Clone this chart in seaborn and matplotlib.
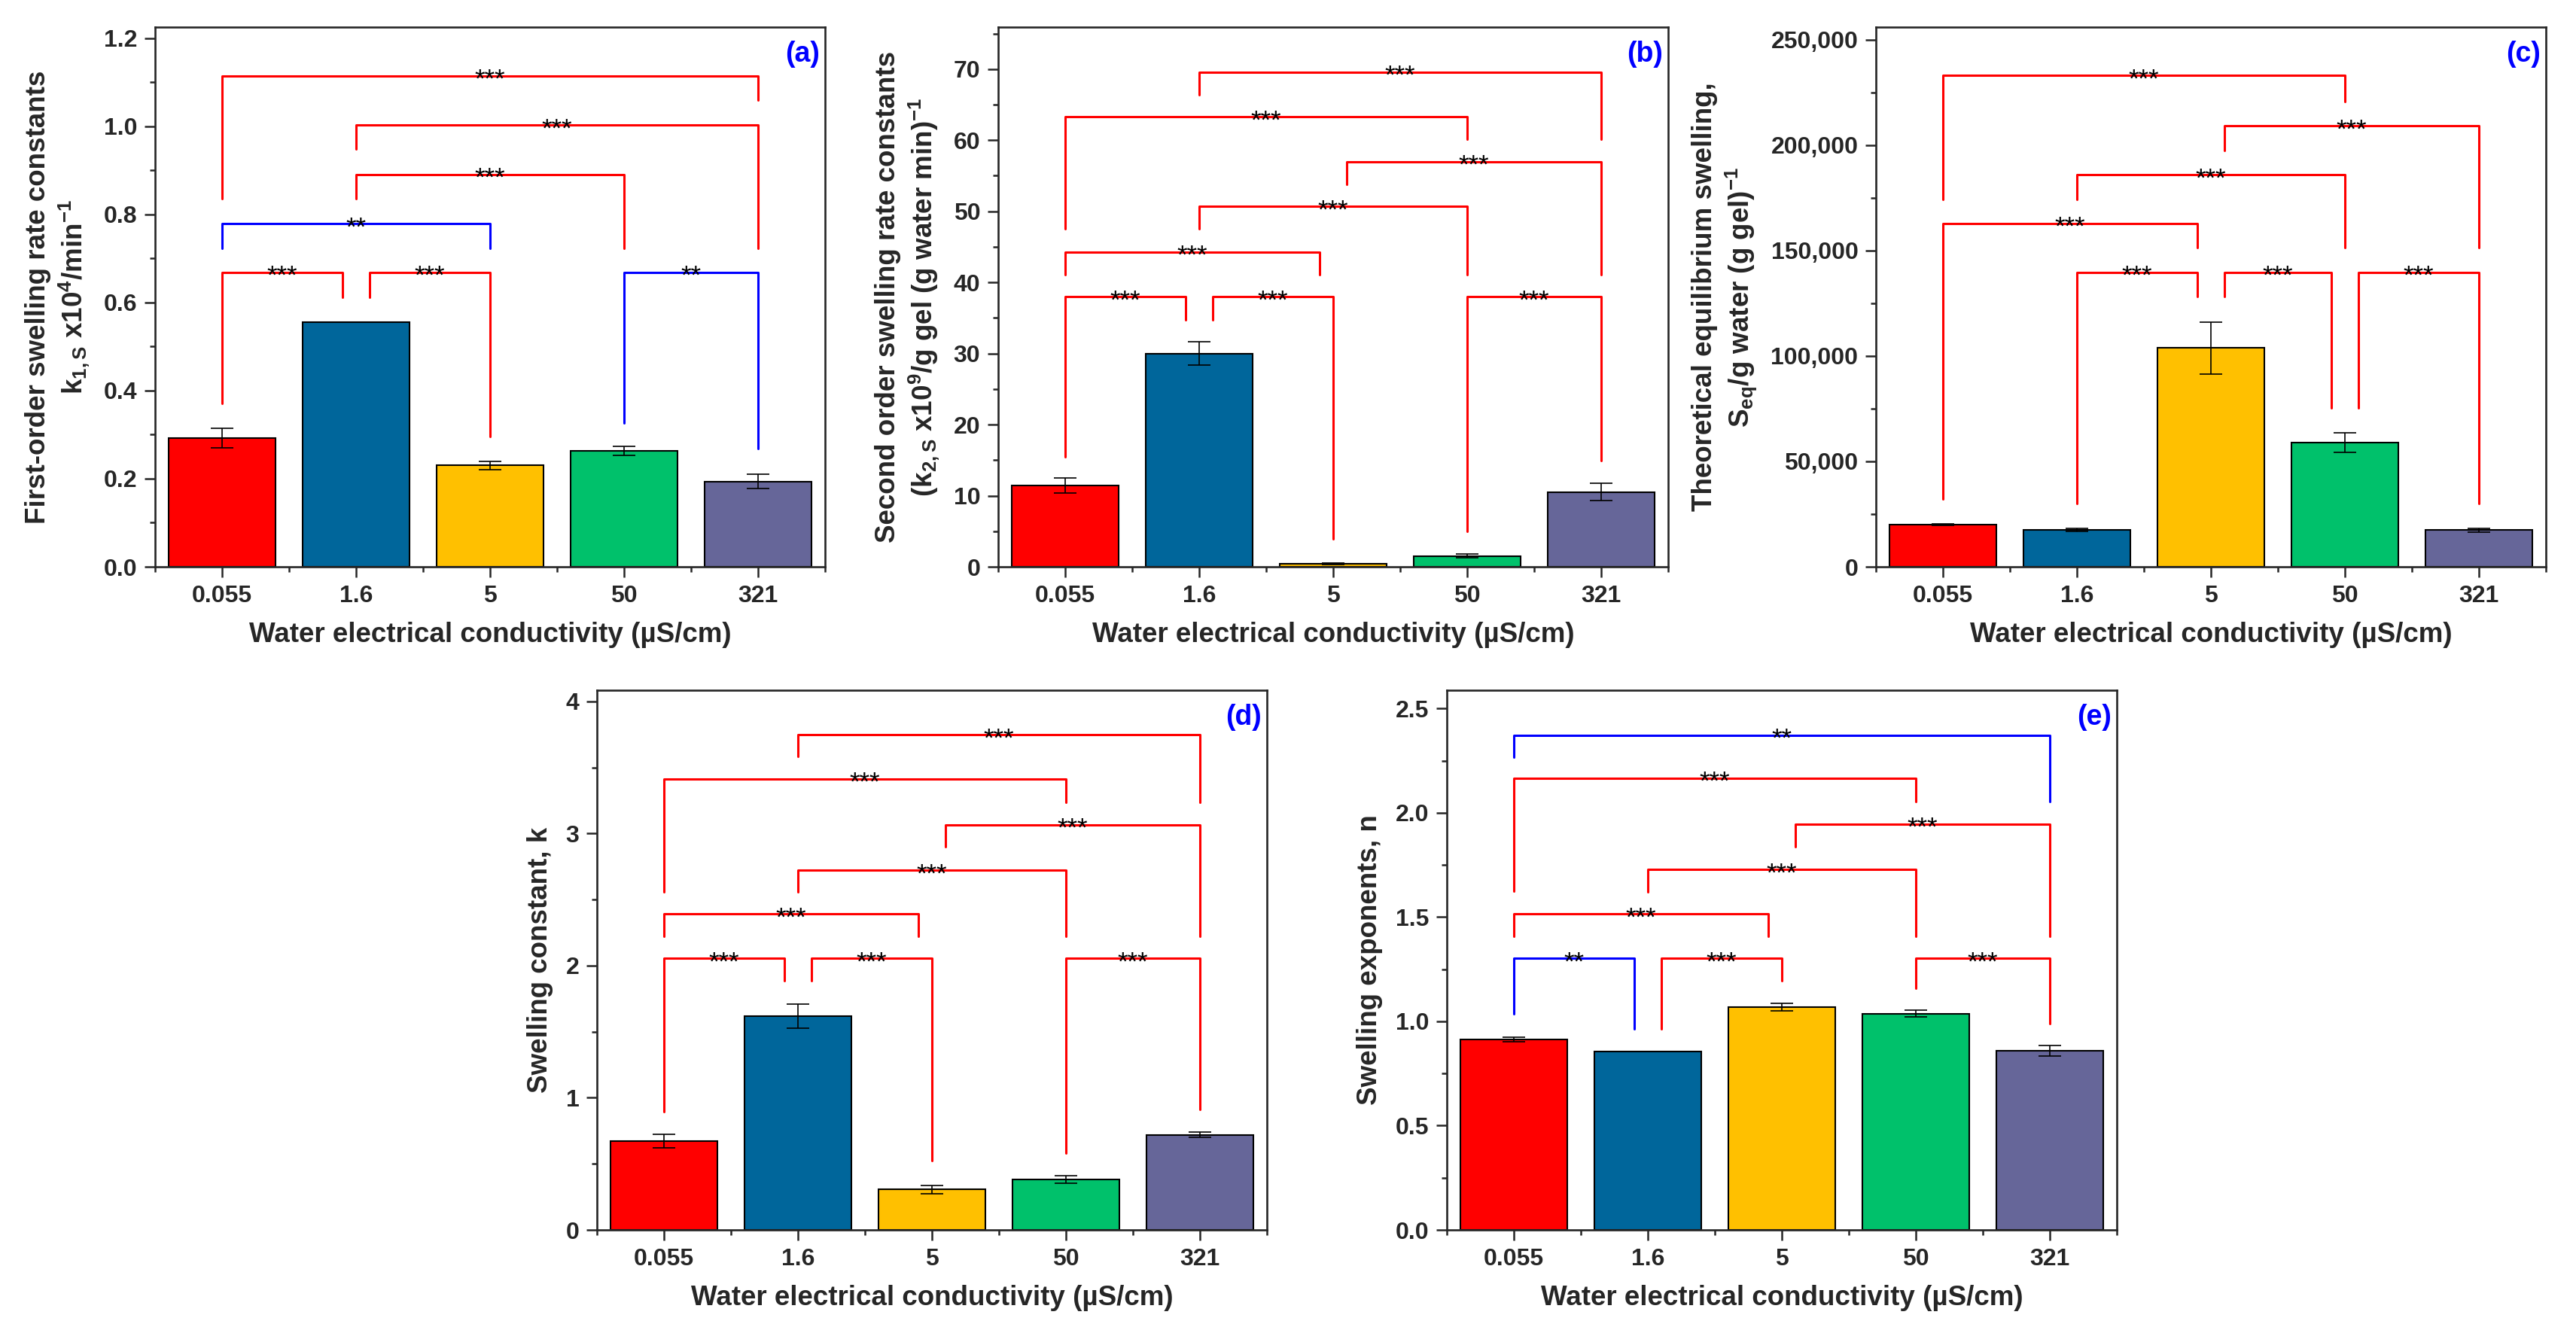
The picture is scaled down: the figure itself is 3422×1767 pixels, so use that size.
import numpy as np
import pandas as pd
import matplotlib
matplotlib.use("Agg")
import matplotlib.pyplot as plt
import matplotlib.ticker as mticker
import seaborn as sns

# data
conductivity = ["0.055", "1.6", "5", "50", "321"]
bar_colors = ["#FF0000", "#00669B", "#FFC000", "#00C16B", "#666699"]

k1_mean = [0.292, 0.556, 0.230, 0.263, 0.194]
k1_err = [0.022, 0.0, 0.010, 0.010, 0.016]

k2_mean = [11.4, 30.0, 0.45, 1.5, 10.5]
k2_err = [1.05, 1.66, 0.12, 0.27, 1.2]

seq_mean = [20000, 17400, 103800, 58900, 17400]
seq_err = [500, 700, 12300, 4700, 900]

kconst_mean = [0.673, 1.619, 0.306, 0.383, 0.718]
kconst_err = [0.05, 0.093, 0.03, 0.03, 0.02]

nexp_mean = [0.914, 0.855, 1.067, 1.037, 0.859]
nexp_err = [0.01, 0.0, 0.018, 0.016, 0.026]

# significance brackets: (group i, group j, shift i, shift j, height, leg end i, leg end j, stars)
k1_sig = [
    (0, 1, 0, -0.1, 0.669, 0.371, 0.6125, "***"),
    (1, 2, 0.1, 0, 0.669, 0.6125, 0.295, "***"),
    (0, 2, 0, 0, 0.779, 0.7225, 0.7225, "**"),
    (1, 3, 0, 0, 0.891, 0.836, 0.7225, "***"),
    (1, 4, 0, 0, 1.003, 0.948, 0.7225, "***"),
    (0, 4, 0, 0, 1.115, 0.836, 1.06, "***"),
    (3, 4, 0, 0, 0.669, 0.326, 0.268, "**"),
]
k2_sig = [
    (0, 1, 0, -0.1, 38.0, 15.5, 34.7, "***"),
    (1, 2, 0.1, 0, 38.0, 34.7, 3.9, "***"),
    (0, 2, 0, -0.1, 44.3, 41.1, 41.1, "***"),
    (1, 3, 0, 0, 50.7, 47.5, 41.1, "***"),
    (2, 4, 0.1, 0, 57.0, 53.8, 41.1, "***"),
    (0, 3, 0, 0, 63.3, 47.5, 60.1, "***"),
    (1, 4, 0, 0, 69.6, 66.4, 60.1, "***"),
    (3, 4, 0, 0, 38.0, 5.0, 14.95, "***"),
]
seq_sig = [
    (1, 2, 0, -0.1, 139700, 29900, 128100, "***"),
    (2, 3, 0.1, -0.1, 139700, 128100, 75500, "***"),
    (3, 4, 0.1, 0, 139700, 75500, 29900, "***"),
    (0, 2, 0, -0.1, 162900, 32200, 151300, "***"),
    (1, 3, 0, 0, 186000, 174300, 151300, "***"),
    (2, 4, 0.1, 0, 209200, 197500, 151300, "***"),
    (0, 3, 0, 0, 233000, 174300, 220800, "***"),
]
kconst_sig = [
    (0, 1, 0, -0.1, 2.056, 0.895, 1.883, "***"),
    (1, 2, 0.1, 0, 2.056, 1.883, 0.525, "***"),
    (0, 2, 0, -0.1, 2.391, 2.224, 2.224, "***"),
    (1, 3, 0, 0, 2.722, 2.558, 2.224, "***"),
    (2, 4, 0.1, 0, 3.067, 2.90, 2.224, "***"),
    (0, 3, 0, 0, 3.414, 2.56, 3.237, "***"),
    (1, 4, 0, 0, 3.749, 3.582, 3.237, "***"),
    (3, 4, 0, 0, 2.056, 0.582, 0.911, "***"),
]
nexp_sig = [
    (0, 1, 0, -0.1, 1.302, 1.035, 0.965, "**"),
    (1, 2, 0.1, 0, 1.302, 0.965, 1.194, "***"),
    (3, 4, 0, 0, 1.302, 1.159, 0.990, "***"),
    (0, 2, 0, -0.1, 1.516, 1.408, 1.408, "***"),
    (1, 3, 0, 0, 1.729, 1.622, 1.408, "***"),
    (2, 4, 0.1, 0, 1.947, 1.837, 1.408, "***"),
    (0, 3, 0, 0, 2.167, 1.624, 2.053, "***"),
    (0, 4, 0, 0, 2.373, 2.267, 2.053, "**"),
]

sns.set_style("ticks")
plt.rcParams["font.family"] = ["Liberation Sans", "DejaVu Sans"]
plt.rcParams["font.weight"] = "bold"
plt.rcParams["mathtext.fontset"] = "custom"
plt.rcParams["mathtext.rm"] = "Liberation Sans:bold"
plt.rcParams["mathtext.it"] = "Liberation Sans:bold"
plt.rcParams["mathtext.bf"] = "Liberation Sans:bold"

W, H = 3422, 1767
fig = plt.figure(figsize=(W / 100, H / 100), dpi=100)


def add_panel(left, top, mean, err, sig, ylabel, letter, ymax, major, minor, fmt):
    ax = fig.add_axes([left / W, (H - top - 717) / H, 890 / W, 717 / H])
    df = pd.DataFrame({"ec": conductivity, "val": mean})
    sns.barplot(
        data=df, x="ec", y="val", hue="ec",
        order=conductivity, hue_order=conductivity,
        palette=bar_colors, saturation=1, legend=False,
        errorbar=None, width=0.8,
        edgecolor="black", linewidth=1.5, ax=ax
    )
    ax.errorbar(
        np.arange(len(mean)), mean, yerr=err,
        fmt="none", ecolor="black", elinewidth=1.2,
        capsize=11, capthick=1.2, zorder=5
    )

    for i, j, di, dj, h, yi, yj, stars in sig:
        color = "#FF0000" if stars == "***" else "#0000FF"
        x1 = i + di
        x2 = j + dj
        ax.plot([x1, x1, x2, x2], [yi, h, h, yj], color=color, lw=2.2, zorder=6)
        ax.annotate(
            stars, xy=((x1 + x2) / 2, h), xytext=(0, -11),
            textcoords="offset points", ha="center", va="baseline",
            fontsize=25, fontweight="normal", color="black", zorder=7
        )

    ax.set_xlim(-0.5, 4.5)
    ax.set_ylim(0, ymax)
    ax.xaxis.set_minor_locator(mticker.FixedLocator(np.arange(-0.5, 5, 1.0)))
    ax.yaxis.set_major_locator(mticker.MultipleLocator(major))
    ax.yaxis.set_minor_locator(mticker.MultipleLocator(minor))
    ax.yaxis.set_major_formatter(mticker.FuncFormatter(fmt))

    ax.tick_params(axis="both", which="major", length=10, width=1.8,
                   labelsize=23, pad=7, direction="out")
    ax.tick_params(axis="both", which="minor", length=5, width=1.8, direction="out")
    for lab in ax.get_xticklabels() + ax.get_yticklabels():
        lab.set_fontweight("bold")
    for s in ax.spines.values():
        s.set_linewidth(1.9)
        s.set_visible(True)

    ax.set_xlabel("Water electrical conductivity (\u00b5S/cm)",
                  fontsize=26.5, fontweight="bold", labelpad=14)
    ax.set_ylabel(ylabel, fontsize=26.5, fontweight="bold", labelpad=12)
    ax.text(0.992, 0.975, letter, transform=ax.transAxes, ha="right", va="top",
            color="#0000FF", fontsize=27, fontweight="bold")
    return ax


add_panel(206, 36, k1_mean, k1_err, k1_sig,
          "First-order swelling rate constants\nk$_{1,S}$ x10$^{4}$/min$^{-1}$",
          "(a)", 1.2256, 0.2, 0.1, lambda v, p: f"{v:.1f}")
add_panel(1326, 36, k2_mean, k2_err, k2_sig,
          "Second order swelling rate constants\n(k$_{2,S}$ x10$^{9}$/g gel (g water min)$^{-1}$",
          "(b)", 75.9, 10, 5, lambda v, p: f"{v:.0f}")
add_panel(2492, 36, seq_mean, seq_err, seq_sig,
          "Theoretical equilibrium swelling,\nS$_{eq}$/g water (g gel)$^{-1}$",
          "(c)", 256000, 50000, 25000, lambda v, p: f"{v:,.0f}")
add_panel(793, 917, kconst_mean, kconst_err, kconst_sig,
          "Swelling constant, k",
          "(d)", 4.085, 1, 0.5, lambda v, p: f"{v:.0f}")
add_panel(1922, 917, nexp_mean, nexp_err, nexp_sig,
          "Swelling exponents, n",
          "(e)", 2.588, 0.5, 0.25, lambda v, p: f"{v:.1f}")

fig.savefig("out.png", dpi=100, facecolor="white")
plt.close(fig)
